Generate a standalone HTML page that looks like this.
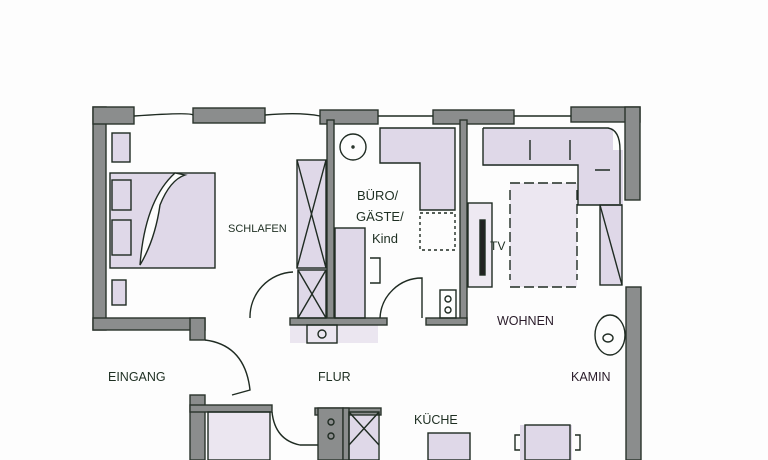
<!DOCTYPE html>
<html><head><style>html,body{margin:0;padding:0;background:#fdfdfd;}svg{display:block}</style></head>
<body>
<svg width="768" height="460" viewBox="0 0 768 460" xmlns="http://www.w3.org/2000/svg">
<rect width="768" height="460" fill="#fdfdfd"/>
<g fill="#dfd8e8" stroke="none">
<rect x="110" y="173" width="105" height="95"/>
<rect x="112" y="133" width="18" height="29"/><rect x="112" y="180" width="19" height="30"/><rect x="112" y="220" width="19" height="35"/><rect x="112" y="280" width="14" height="25"/>
<rect x="297" y="160" width="29" height="158"/>
<rect x="335" y="228" width="30" height="90"/>
<rect x="380" y="128" width="75" height="35"/><rect x="420" y="128" width="35" height="82"/>
<rect x="483" y="128" width="130" height="38"/><rect x="578" y="150" width="45" height="55"/>
<rect x="468" y="203" width="24" height="84" fill="#eee9f2"/>
<rect x="510" y="183" width="67" height="104" fill="#ece7f1"/>
<rect x="600" y="205" width="22" height="80"/>
<rect x="428" y="433" width="42" height="27"/><rect x="520" y="425" width="52" height="35"/>
<rect x="290" y="325" width="88" height="18" fill="#ebe6f0"/>
<rect x="208" y="412" width="62" height="48" fill="#ebe6f0"/>
<rect x="343" y="412" width="35" height="48"/>
</g>
<g fill="#8b8d8d" stroke="#2a332c" stroke-width="1.4">
<rect x="93" y="107" width="13" height="223"/><rect x="93" y="107" width="41" height="17"/>
<rect x="93" y="318" width="112" height="12"/><rect x="190" y="318" width="15" height="22"/>
<rect x="193" y="108" width="72" height="15"/>
<rect x="320" y="110" width="58" height="14"/>
<rect x="433" y="110" width="81" height="14"/>
<rect x="571" y="107" width="69" height="15"/><rect x="625" y="107" width="15" height="93"/>
<rect x="626" y="287" width="15" height="173"/>
<rect x="327" y="120" width="7" height="200"/><rect x="460" y="120" width="7" height="203"/>
<rect x="290" y="318" width="97" height="7"/><rect x="426" y="318" width="41" height="7"/>
<rect x="190" y="395" width="15" height="65"/><rect x="190" y="405" width="82" height="7"/>
<rect x="315" y="408" width="66" height="7"/><rect x="318" y="408" width="25" height="52"/>
<rect x="343" y="408" width="6" height="52"/>
</g>
<g fill="none" stroke="#1f2b22" stroke-width="1.4">
<path d="M134 116 Q190 112 193 115 M265 115 Q300 112 320 116 M378 116 L433 116 M514 116 L571 116"/>
<rect x="110" y="173" width="105" height="95"/>
<path d="M175 173 Q145 200 140 265 Q155 240 160 205 Q170 180 185 175 Z" fill="#fdfdfd"/>
<rect x="112" y="133" width="18" height="29"/><rect x="112" y="180" width="19" height="30"/><rect x="112" y="220" width="19" height="35"/><rect x="112" y="280" width="14" height="25"/>
<rect x="297" y="160" width="29" height="108"/><path d="M297 160 L326 268 M326 160 L297 268"/>
<rect x="298" y="270" width="28" height="48"/><path d="M298 270 L326 318 M326 270 L298 318"/>
<path d="M250 318 A45 45 0 0 1 293 272"/>
<path d="M205 340 Q245 345 250 390 L232 395"/>
<circle cx="353" cy="147" r="13"/><circle cx="353" cy="147" r="1"/>
<path d="M380 128 L455 128 L455 210 L420 210 L420 163 L380 163 Z"/>
<path d="M420 213 L455 213 L455 250 L420 250 Z" stroke-dasharray="3 3"/>
<rect x="335" y="228" width="30" height="90"/>
<path d="M370 258 L380 258 L380 283 L370 283"/>
<path d="M380 318 A42 42 0 0 1 422 278 L422 318"/>
<rect x="440" y="290" width="16" height="28"/><circle cx="448" cy="299" r="3"/><circle cx="448" cy="310" r="3"/>
<rect x="307" y="325" width="30" height="18"/><circle cx="322" cy="334" r="4"/>
<path d="M483 128 L608 128 Q620 130 620 150 L620 204 M483 128 L483 165 L578 165 L578 205 L622 205"/>
<path d="M530 140 L530 160 M570 140 L570 160 M595 170 L610 170"/>
<rect x="468" y="203" width="24" height="84"/><rect x="480" y="220" width="5" height="55" fill="#222"/>
<path d="M510 183 L577 183 M510 287 L577 287 M510 190 L510 280 M577 190 L577 280" stroke-dasharray="10 4"/>
<rect x="600" y="205" width="22" height="80"/><path d="M600 205 L622 285"/>
<ellipse cx="610" cy="335" rx="15" ry="20"/><ellipse cx="608" cy="338" rx="5" ry="4"/>
<rect x="208" y="412" width="62" height="48"/><path d="M272 412 Q275 440 300 445 L318 445"/>
<rect x="349" y="412" width="30" height="48"/><path d="M349 412 L379 445 M379 412 L349 445"/>
<circle cx="331" cy="422" r="3"/><circle cx="331" cy="436" r="3"/>
<rect x="428" y="433" width="42" height="27"/><rect x="525" y="425" width="45" height="35"/>
<path d="M520 435 L515 435 L515 450 L520 450 M575 435 L580 435 L580 450 L575 450"/>
</g>
<g font-family="Liberation Sans, sans-serif" fill="#1e2f22" font-size="12">
<text x="228" y="232" font-size="11">SCHLAFEN</text>
<text x="357" y="200" font-size="13">BÜRO/</text>
<text x="356" y="221" font-size="13">GÄSTE/</text>
<text x="372" y="243" font-size="13">Kind</text>
<text x="108" y="381" font-size="12.5">EINGANG</text>
<text x="318" y="381" font-size="12.5">FLUR</text>
<text x="414" y="424" font-size="12.5">KÜCHE</text>
<text x="497" y="325" font-size="12.5" fill="#2a1c2a">WOHNEN</text>
<text x="571" y="381" font-size="12.5" fill="#2a1c2a">KAMIN</text>
<text x="490" y="250" font-size="12">TV</text>
</g>
</svg>
</body></html>
